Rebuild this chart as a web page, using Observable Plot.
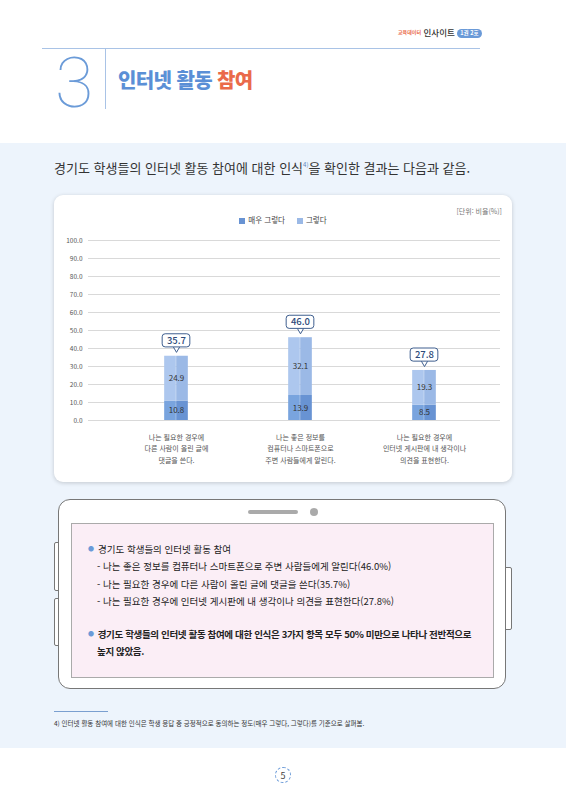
<!DOCTYPE html>
<html lang="ko">
<head>
<meta charset="utf-8">
<script src="https://cdn.jsdelivr.net/npm/d3@7"></script>
<script src="https://cdn.jsdelivr.net/npm/@observablehq/plot@0.6"></script>
<style>
  html, body { margin: 0; padding: 0; }
  body { width: 566px; height: 800px; position: relative; background: #fff; overflow: hidden;
         font-family: "Noto Sans CJK KR", "Noto Sans", sans-serif; color: #333; }
  .abs { position: absolute; }
  #bluebg { left: 0; top: 143px; width: 566px; height: 605px; background: #edf4fc; }
  #hline { left: 42px; top: 48px; width: 438px; height: 1px; background: #a9c3e6; }
  #vline { left: 105px; top: 48px; width: 1px; height: 61px; background: #a9c3e6; }
  #bignum { left: 55px; top: 48px; font-family: Roboto, Lato, sans-serif; font-weight: 100; font-size: 70px; line-height: 70px; color: #6b9bd8; }
  #title { left: 118px; top: 65px; font-size: 20px; font-weight: 900; line-height: 30px; color: #5b8fd6; letter-spacing: -0.6px; }
  #title span { color: #ea6a4a; }
  #brand { left: 398px; top: 26px; font-size: 9px; line-height: 12px; white-space: nowrap; }
  #brand .s { color: #ea6a4a; font-size: 5px; font-weight: 700; vertical-align: 2px; }
  #brand .m { color: #333; font-size: 8.5px; font-weight: 500; }
  #brand .pill { display: inline-block; background: #6a9ad8; color: #fff; font-size: 5.5px; font-weight: 700; border-radius: 6px; padding: 0 3px; line-height: 9px; vertical-align: 1px; }
  #intro { left: 54px; top: 156px; font-size: 13px; line-height: 18px; color: #333; white-space: nowrap; }
  #intro sup { font-size: 6px; color: #5b7fb8; vertical-align: 6px; }
  #panel { left: 54px; top: 195px; width: 458px; height: 287px; background: #fff; border-radius: 9px; box-shadow: 0 1px 4px rgba(0,0,0,0.18); }
  #unit { right: 64px; top: 206px; font-size: 7px; color: #777; }
  #legend { left: 0; width: 566px; top: 214px; text-align: center; font-size: 7.5px; color: #444; }
  #legend .sw { display: inline-block; width: 6px; height: 6px; margin-right: 3px; vertical-align: -0.5px; }
  #legend .it { margin: 0 6px; }
  #chart { left: 54px; top: 228px; }
  #tablet { left: 58px; top: 499px; width: 448px; height: 190px; background: #fff; border: 1px solid #777; border-radius: 12px; box-sizing: border-box; }
  .btn { background: #fff; border: 1px solid #777; box-sizing: border-box; border-radius: 2px; }
  #screen { left: 71px; top: 523px; width: 423px; height: 155px; background: #fbeef6; border: 1.5px solid #aaa; box-sizing: border-box; }
  #speaker { left: 248px; top: 510px; width: 50px; height: 4px; border-radius: 2px; background: #aaa; }
  #cam { left: 310px; top: 508px; width: 8px; height: 8px; border-radius: 50%; background: #aaa; }
  #tx { left: 88px; top: 540px; font-size: 9.5px; line-height: 17.5px; color: #222; white-space: nowrap; }
  #tx .b { color: #6a9ad8; margin-right: 4px; font-size: 6px; vertical-align: 1.5px; }
  #tx .sub { padding-left: 9px; }
  #tx .bold { font-weight: 700; letter-spacing: -0.35px; }
  #tx .gap { height: 14px; }
  #fnline { left: 54px; top: 711px; width: 54px; height: 1px; background: #7a9fd0; }
  #fn { left: 54px; top: 718px; font-size: 6.5px; color: #333; white-space: nowrap; }
  #pg { left: 275px; top: 767px; width: 16px; height: 16px; border-radius: 50%; border: 1px dashed #6a9ad8; box-sizing: border-box; text-align: center; font-size: 9px; line-height: 15px; color: #444; }
</style>
</head>
<body>
<div class="abs" id="bluebg"></div>
<div class="abs" id="brand"><span class="s">교육데이터</span> <span class="m">인사이트</span> <span class="pill">1권 2호</span></div>
<div class="abs" id="hline"></div>
<div class="abs" id="vline"></div>
<div class="abs" id="bignum">3</div>
<div class="abs" id="title">인터넷 활동 <span>참여</span></div>
<div class="abs" id="intro">경기도 학생들의 인터넷 활동 참여에 대한 인식<sup>4)</sup>을 확인한 결과는 다음과 같음.</div>
<div class="abs" id="panel"></div>
<div class="abs" id="unit">[단위: 비율(%)]</div>
<div class="abs" id="legend"></div>
<div class="abs" id="chart"></div>

<div class="abs btn" style="left:54px;top:542px;width:6px;height:49px;"></div>
<div class="abs btn" style="left:54px;top:598px;width:6px;height:48px;"></div>
<div class="abs btn" style="left:504px;top:567px;width:8px;height:63px;"></div>
<div class="abs" id="tablet"></div>
<div class="abs" id="speaker"></div>
<div class="abs" id="cam"></div>
<div class="abs" id="screen"></div>
<div class="abs" id="tx">
  <div><span class="b">●</span>경기도 학생들의 인터넷 활동 참여</div>
  <div class="sub">- 나는 좋은 정보를 컴퓨터나 스마트폰으로 주변 사람들에게 알린다(46.0%)</div>
  <div class="sub">- 나는 필요한 경우에 다른 사람이 올린 글에 댓글을 쓴다(35.7%)</div>
  <div class="sub">- 나는 필요한 경우에 인터넷 게시판에 내 생각이나 의견을 표현한다(27.8%)</div>
  <div class="gap"></div>
  <div class="bold"><span class="b">●</span>경기도 학생들의 인터넷 활동 참여에 대한 인식은 3가지 항목 모두 50% 미만으로 나타나 전반적으로</div>
  <div class="bold sub">높지 않았음.</div>
</div>
<div class="abs" id="fnline"></div>
<div class="abs" id="fn">4) 인터넷 활동 참여에 대한 인식은 학생 응답 중 긍정적으로 동의하는 정도(매우 그렇다, 그렇다)를 기준으로 살펴봄.</div>
<div class="abs" id="pg">5</div>

<script>
const categories = [
  "나는 필요한 경우에\n다른 사람이 올린 글에\n댓글을 쓴다.",
  "나는 좋은 정보를\n컴퓨터나 스마트폰으로\n주변 사람들에게 알린다.",
  "나는 필요한 경우에\n인터넷 게시판에 내 생각이나\n의견을 표현한다."
];
const seriesNames = ["매우 그렇다", "그렇다"];
const veryAgree = [10.8, 13.9, 8.5];
const agree = [24.9, 32.1, 19.3];
const totals = [35.7, 46.0, 27.8];
const totalLabels = ["35.7", "46.0", "27.8"];
const yTicks = [0, 10, 20, 30, 40, 50, 60, 70, 80, 90, 100];

const colorsLeft = ["#79a4de", "#adc7ee"];
const colorsRight = ["#6893d3", "#9bb9e6"];

// legend
const legend = document.getElementById("legend");
seriesNames.forEach((s, i) => {
  const it = document.createElement("span");
  it.className = "it";
  it.innerHTML = `<span class="sw" style="background:${colorsRight[i]}"></span>${s}`;
  legend.appendChild(it);
});

const segs = [];
categories.forEach((c, i) => {
  segs.push({cat: c, series: 0, y1: 0, y2: veryAgree[i], v: veryAgree[i]});
  segs.push({cat: c, series: 1, y1: veryAgree[i], y2: veryAgree[i] + agree[i], v: agree[i]});
});
const tots = categories.map((c, i) => ({cat: c, t: totals[i], label: totalLabels[i]}));

const W = 458, H = 245;
const step = (432 - 59) / 3;
const barW = 24;
const ins = (step - barW) / 2;
const boxW = 28;
const bins = (step - boxW) / 2;

const plot = Plot.plot({
  width: W, height: H,
  marginTop: 12, marginBottom: 53, marginLeft: 34, marginRight: 12,
  style: {fontFamily: "'Noto Sans CJK KR', 'Noto Sans', sans-serif", background: "transparent", color: "#555"},
  x: {domain: categories, range: [59, 432], padding: 0, label: null},
  y: {domain: [0, 100], label: null},
  marks: [
    Plot.ruleY(yTicks, {stroke: "#d9d9d9", strokeWidth: 1}),
    Plot.axisY({ticks: yTicks, tickFormat: d => d.toFixed(1), tickSize: 0, tickPadding: 6, fontSize: 6.5, fill: "#555", label: null}),
    Plot.axisX({tickSize: 0, tickPadding: 11, fontSize: 7, lineHeight: 1.65, fill: "#555", label: null}),
    Plot.rectY(segs, {x: "cat", y1: "y1", y2: "y2", fill: d => colorsLeft[d.series], insetLeft: ins, insetRight: ins + barW / 2}),
    Plot.rectY(segs, {x: "cat", y1: "y1", y2: "y2", fill: d => colorsRight[d.series], insetLeft: ins + barW / 2, insetRight: ins}),
    Plot.text(segs, {x: "cat", y: d => (d.y1 + d.y2) / 2, text: d => d.v.toFixed(1), fontSize: 8, fill: "#333", letterSpacing: -0.3}),
    Plot.dot(tots, {x: "cat", y: d => d.t + 4.4, symbol: "triangle", rotate: 180, r: 2.6, fill: "#fff", stroke: "#3f5f8f", strokeWidth: 1}),
    Plot.rectY(tots, {x: "cat", y1: d => d.t + 4.9, y2: d => d.t + 12.2, fill: "#fff", stroke: "#3f5f8f", strokeWidth: 1, rx: 3, insetLeft: bins, insetRight: bins}),
    Plot.text(tots, {x: "cat", y: d => d.t + 8.55, text: "label", fontSize: 9.5, fontWeight: 500, fill: "#2d4a7a"})
  ]
});
document.getElementById("chart").appendChild(plot);
</script>
</body>
</html>
